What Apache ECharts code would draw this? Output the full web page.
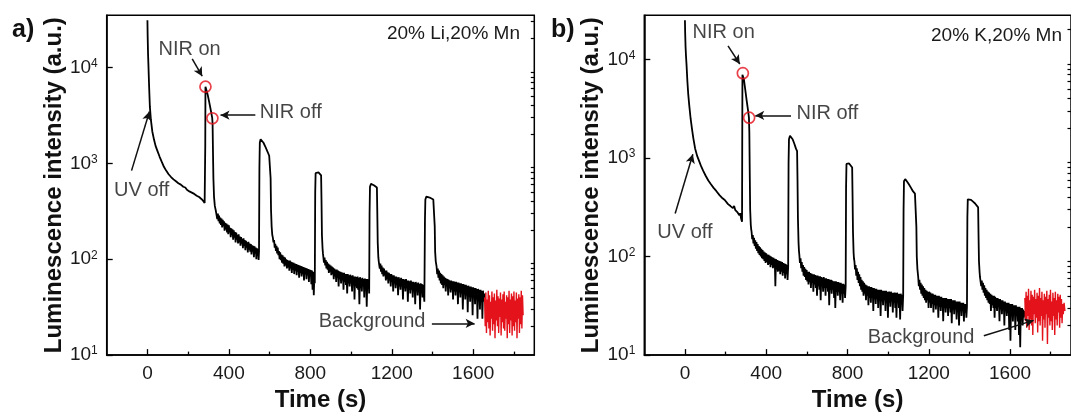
<!DOCTYPE html>
<html><head><meta charset="utf-8">
<script src="https://cdn.jsdelivr.net/npm/echarts@6/dist/echarts.min.js"></script>
<style>html,body{margin:0;padding:0;background:#fff}#c{width:1071px;height:417px}</style>
</head><body><div id="c"></div>
<script>
// ---- tick values ----
const xMajorTicks = [0, 400, 800, 1200, 1600];
const xMinorTicks = [200, 600, 1000, 1400, 1800];
const yMajorTicks = [10, 100, 1000, 10000];
const yMinorTicks = [20,30,40,50,60,70,80,90,200,300,400,500,600,700,800,900,2000,3000,4000,5000,6000,7000,8000,9000,20000,30000];

// ---- panel a: 20% Li, 20% Mn ----
const aBlack = [
[0,31000],[1,22000],[3,14000],[5,10500],[8,6600],[12,3900],[17,2850],[24,2150],[32,1780],[40,1520],[49,1350],[60,1170],[70,1040],[81,920],[92,840],[104,770],[116,720],[128,680],[140,650],[152,620],[164,600],[176,570],[186,560],[194,530],[200,545],[206,510],[212,530],[218,495],[224,510],[230,480],[236,500],[242,460],[248,475],[254,445],[260,455],[265,425],[270,430],[274,405],[278,400],[281,385],[283,380],
[284,1500],[285,6300],[288,6100],[295,5300],[303,4400],[311,3600],[318,3000],[320,2600],[322,1300],[324,700],[327,450],[331,360],[336,320],
[340,310],[343,262],[346,300],[349,250],[352,285],[355,236],[358,272],[361,228],[364,266],[367,215],[370,258],[373,222],[376,248],[379,198],[382,240],[385,205],[388,236],[391,190],[394,230],[397,182],[400,226],[403,190],[406,212],[409,170],[412,210],[415,178],[418,205],[421,160],[424,200],[427,168],[430,192],[433,150],[436,190],[439,160],[442,180],[445,146],[448,182],[451,150],[454,172],[457,138],[460,170],[463,145],[466,163],[469,130],[472,165],[475,138],[478,158],[481,124],[484,156],[487,132],[490,150],[493,118],[496,152],[499,126],[502,146],[505,120],[508,144],[511,112],[514,140],[517,120],[520,138],[523,105],[526,136],[529,114],[532,132],[535,100],[538,130],[541,108],[544,128],[546,98],[548,120],
[550,900],[552,1650],[556,1780],[562,1760],[570,1640],[580,1480],[590,1320],[598,1200],[603,1150],[605,700],[607,330],[610,220],[613,180],
[616,168],[619,150],[622,158],[625,132],[628,145],[631,122],[634,138],[637,115],[640,132],[643,110],[646,122],[649,100],[652,118],[655,98],[658,112],[661,92],[664,110],[667,90],[670,106],[673,84],[676,104],[679,86],[682,100],[685,80],[688,98],[691,82],[694,96],[697,76],[700,97],[703,80],[706,94],[709,72],[712,93],[715,78],[718,92],[721,70],[724,90],[727,76],[730,89],[733,68],[736,88],[739,74],[742,87],[745,64],[748,86],[751,72],[754,85],[757,66],[760,84],[763,70],[766,83],[769,60],[772,82],[775,70],[778,81],[781,62],[784,80],[787,68],[790,79],[793,58],[796,78],[799,66],[802,77],[805,55],[808,76],[811,48],[814,74],[817,42],[820,70],[822,56],
[824,500],[826,790],[832,815],[840,805],[848,780],[853,750],[855,400],[857,180],[860,130],[862,115],
[864,110],[867,92],[870,104],[873,86],[876,98],[879,80],[882,94],[885,78],[888,90],[891,72],[894,88],[897,74],[900,86],[903,68],[906,84],[909,70],[912,82],[915,62],[918,80],[921,66],[924,78],[927,58],[930,78],[933,64],[936,76],[939,52],[942,75],[945,62],[948,74],[951,56],[954,73],[957,60],[960,72],[963,48],[966,72],[969,58],[972,70],[975,54],[978,70],[981,44],[984,70],[987,56],[990,68],[993,52],[996,69],[999,56],[1002,67],[1005,46],[1008,68],[1011,54],[1014,66],[1017,38],[1020,66],[1023,52],[1026,65],[1029,50],[1032,66],[1035,48],[1038,64],[1041,34],[1044,65],[1047,50],[1050,63],[1053,46],[1056,64],[1059,52],[1062,62],[1065,40],[1068,63],[1071,48],[1074,62],[1077,32],[1080,62],[1083,50],[1086,60],[1089,44],
[1091,300],[1093,570],[1098,610],[1105,600],[1112,590],[1120,575],[1127,560],[1129,300],[1131,150],[1134,105],[1136,95],
[1138,92],[1141,80],[1144,90],[1147,74],[1150,86],[1153,70],[1156,82],[1159,66],[1162,80],[1165,68],[1168,76],[1171,60],[1174,76],[1177,62],[1180,73],[1183,56],[1186,72],[1189,60],[1192,70],[1195,52],[1198,70],[1201,58],[1204,68],[1207,46],[1210,68],[1213,56],[1216,66],[1219,50],[1222,66],[1225,54],[1228,65],[1231,42],[1234,65],[1237,52],[1240,63],[1243,48],[1246,64],[1249,52],[1252,62],[1255,38],[1258,62],[1261,50],[1264,61],[1267,46],[1270,62],[1273,50],[1276,60],[1279,36],[1282,60],[1285,48],[1288,59],[1291,44],[1294,60],[1297,48],[1300,58],[1303,40],[1306,58],[1309,47],[1312,57],[1315,34],[1318,58],[1321,46],[1324,56],[1327,42],[1330,57],[1333,46],[1336,55],[1339,30],[1342,56],[1345,44],[1348,55],[1351,40],[1354,54],[1357,44],[1360,36],
[1363,260],[1365,420],[1370,450],[1378,455],[1386,440],[1395,435],[1404,420],[1409,410],[1411,220],[1413,120],[1416,95],
[1420,84],[1423,70],[1426,80],[1429,64],[1432,76],[1435,60],[1438,72],[1441,56],[1444,70],[1447,54],[1450,68],[1453,50],[1456,66],[1459,54],[1462,64],[1465,46],[1468,63],[1471,52],[1474,62],[1477,42],[1480,61],[1483,50],[1486,60],[1489,45],[1492,60],[1495,48],[1498,59],[1501,38],[1504,59],[1507,46],[1510,58],[1513,42],[1516,58],[1519,46],[1522,57],[1525,34],[1528,57],[1531,45],[1534,56],[1537,40],[1540,56],[1543,44],[1546,55],[1549,30],[1552,55],[1555,43],[1558,54],[1561,38],[1564,54],[1567,42],[1570,53],[1573,28],[1576,53],[1579,41],[1582,52],[1585,36],[1588,52],[1591,40],[1594,51],[1597,26],[1600,51],[1603,40],[1606,50],[1609,34],[1612,50],[1615,38],[1618,49],[1621,24],[1624,49],[1627,38],[1630,48],[1633,30],[1636,48],[1639,36],[1642,47],[1645,24],[1648,47],[1651,36],[1655,44]
];
const aRed = [
[1656,40],[1659,20],[1662,45],[1665,17],[1668,38],[1671,22],[1674,47],[1677,19],[1680,42],[1683,16],[1686,36],[1689,24],[1692,46],[1695,18],[1698,40],[1701,21],[1704,44],[1707,15],[1710,37],[1713,23],[1716,48],[1719,20],[1722,41],[1725,17],[1728,39],[1731,25],[1734,45],[1737,16],[1740,38],[1743,22],[1746,43],[1749,19],[1752,46],[1755,18],[1758,36],[1761,24],[1764,42],[1767,15],[1770,40],[1773,21],[1776,47],[1779,17],[1782,38],[1785,23],[1788,44],[1791,16],[1794,41],[1797,20],[1800,46],[1803,18],[1806,37],[1809,22],[1812,45],[1815,15],[1818,39],[1821,24],[1824,43],[1827,17],[1830,40],[1833,21],[1836,47],[1839,19],[1842,42],[1845,26]
];
const aMarkers = [[285,6300],[319,2950]];
const aTexts = [
  {name:'NIR on', value:[207,15500]},
  {name:'NIR off', value:[704,3420]},
  {name:'UV off', value:[-28,525]},
  {name:'Background', value:[1103,22.5]}
];
const aArrows = [
  [[220,12300],[269,8100]],
  [[530,3180],[359,3180]],
  [[-78,840],[10,3470]],
  [[1397,21.4],[1607,21.4]]
];

// ---- panel b: 20% K, 20% Mn ----
const bBlack = [
[0,25000],[1,19000],[3,13500],[5,11000],[8,8700],[12,6000],[16,4500],[21,3450],[28,2500],[35,1950],[41,1600],[50,1250],[60,1050],[70,930],[80,820],[90,740],[102,660],[115,590],[128,540],[140,500],[155,460],[170,420],[185,390],[196,375],[205,360],[212,340],[218,355],[224,325],[230,340],[236,310],[242,325],[248,295],[254,305],[259,280],[264,290],[268,262],[272,275],[276,245],[279,255],[281,225],
[282,1500],[283,7000],[285,7250],[290,6300],[297,4900],[304,3800],[310,3100],[315,2560],[317,1800],[319,700],[321,300],[324,210],[326,190],
[328,178],[331,150],[334,165],[337,136],[340,155],[343,128],[346,146],[349,120],[352,140],[355,114],[358,134],[361,108],[364,128],[367,104],[370,124],[373,100],[376,120],[379,96],[382,116],[385,94],[388,112],[391,90],[394,110],[397,86],[400,108],[403,88],[406,105],[409,82],[412,104],[415,84],[418,102],[421,78],[424,100],[427,82],[430,98],[433,76],[436,97],[439,78],[442,95],[445,50],[448,94],[451,74],[454,92],[457,70],[460,91],[463,72],[466,90],[469,66],[472,89],[475,70],[478,88],[481,64],[484,86],[487,68],[490,85],[493,60],[496,84],[499,66],[502,82],[505,58],[508,78],
[510,900],[512,1550],[517,1680],[523,1660],[530,1550],[538,1400],[546,1250],[552,1170],[554,600],[556,250],[559,140],[561,115],
[563,104],[566,86],[569,96],[572,76],[575,88],[578,70],[581,82],[584,64],[587,78],[590,62],[593,75],[596,58],[599,73],[602,56],[605,70],[608,52],[611,70],[614,55],[617,68],[620,48],[623,67],[626,54],[629,66],[632,44],[635,66],[638,52],[641,65],[644,48],[647,64],[650,40],[653,64],[656,50],[659,63],[662,46],[665,63],[668,36],[671,62],[674,50],[677,61],[680,44],[683,62],[686,48],[689,60],[692,40],[695,60],[698,48],[701,59],[704,44],[707,59],[710,32],[713,58],[716,46],[719,58],[722,42],[725,57],[728,46],[731,56],[734,38],[737,56],[740,30],[743,56],[746,44],[749,55],[752,40],[755,55],[758,44],[761,54],[764,36],[767,54],[770,42],[773,53],[776,34],[779,53],[782,42],[785,52],[788,38],[791,50],
[793,500],[795,870],[800,900],[808,880],[816,840],[823,800],[825,400],[827,180],[830,110],[832,95],
[834,90],[837,74],[840,82],[843,64],[846,76],[849,58],[852,70],[855,54],[858,66],[861,50],[864,62],[867,46],[870,58],[873,44],[876,56],[879,40],[882,54],[885,42],[888,52],[891,36],[894,51],[897,40],[900,50],[903,32],[906,50],[909,38],[912,49],[915,34],[918,49],[921,38],[924,48],[927,28],[930,48],[933,37],[936,47],[939,33],[942,47],[945,37],[948,46],[951,30],[954,46],[957,36],[960,46],[963,25],[966,46],[969,35],[972,45],[975,32],[978,45],[981,36],[984,45],[987,28],[990,45],[993,35],[996,44],[999,24],[1002,44],[1005,34],[1008,44],[1011,31],[1014,44],[1017,35],[1020,43],[1023,27],[1026,43],[1029,34],[1032,43],[1035,30],[1038,43],[1041,24],[1044,43],[1047,34],[1050,42],[1053,30],[1056,42],[1059,23],[1062,42],[1065,33],[1068,41],[1071,28],[1074,40],
[1076,300],[1078,580],[1084,610],[1092,580],[1102,540],[1112,500],[1122,460],[1132,435],[1137,425],[1139,200],[1141,100],[1144,75],
[1148,62],[1151,50],[1154,58],[1157,46],[1160,54],[1163,42],[1166,52],[1169,40],[1172,50],[1175,38],[1178,48],[1181,36],[1184,46],[1187,34],[1190,45],[1193,36],[1196,44],[1199,30],[1202,44],[1205,34],[1208,43],[1211,30],[1214,42],[1217,33],[1220,42],[1223,27],[1226,41],[1229,32],[1232,41],[1235,29],[1238,40],[1241,32],[1244,40],[1247,24],[1250,40],[1253,31],[1256,39],[1259,28],[1262,39],[1265,31],[1268,38],[1271,22],[1274,38],[1277,30],[1280,38],[1283,27],[1286,38],[1289,30],[1292,37],[1295,25],[1298,37],[1301,30],[1304,37],[1307,27],[1310,37],[1313,21],[1316,36],[1319,29],[1322,36],[1325,26],[1328,36],[1331,29],[1334,35],[1337,23],[1340,35],[1343,28],[1346,35],[1349,20],[1352,35],[1355,28],[1358,34],[1361,25],[1364,34],[1367,28],[1370,34],[1373,22],[1376,33],[1379,27],[1382,33],[1385,24],[1388,31],
[1390,250],[1392,380],[1398,390],[1408,375],[1418,360],[1428,345],[1437,330],[1443,315],[1445,160],[1447,90],[1450,70],[1452,62],
[1455,60],[1458,50],[1461,57],[1464,46],[1467,54],[1470,43],[1473,51],[1476,40],[1479,48],[1482,38],[1485,46],[1488,36],[1491,44],[1494,34],[1497,43],[1500,33],[1503,42],[1506,28],[1509,41],[1512,32],[1515,40],[1518,30],[1521,40],[1524,24],[1527,39],[1530,30],[1533,38],[1536,28],[1539,38],[1542,31],[1545,37],[1548,22],[1551,37],[1554,29],[1557,36],[1560,26],[1563,36],[1566,29],[1569,35],[1572,20],[1575,35],[1578,28],[1581,34],[1584,25],[1587,34],[1590,27],[1593,34],[1596,18],[1599,33],[1602,14],[1605,33],[1608,26],[1611,33],[1614,22],[1617,32],[1620,26],[1623,32],[1626,18],[1629,32],[1632,25],[1635,31],[1638,22],[1641,31],[1644,16],[1647,31],[1650,12],[1653,30],[1656,24],[1659,30],[1662,20],[1665,29],[1668,24],[1671,28]
];
const bRed = [
[1673,38],[1676,22],[1679,44],[1682,19],[1685,40],[1688,25],[1691,47],[1694,18],[1697,36],[1700,23],[1703,45],[1706,20],[1709,41],[1712,16],[1715,39],[1718,26],[1721,46],[1724,21],[1727,37],[1730,24],[1733,43],[1736,17],[1739,40],[1742,22],[1745,48],[1748,20],[1751,38],[1754,25],[1757,44],[1760,14],[1763,36],[1766,23],[1769,42],[1772,19],[1775,39],[1778,26],[1781,45],[1784,13],[1787,37],[1790,24],[1793,41],[1796,20],[1799,46],[1802,22],[1805,35],[1808,18],[1811,43],[1814,25],[1817,38],[1820,16],[1823,44],[1826,23],[1829,36],[1832,20],[1835,42],[1838,27],[1841,39],[1844,19],[1847,41],[1850,24],[1853,37],[1856,21],[1859,33],[1862,26],[1866,34],[1870,28]
];
const bMarkers = [[285,7250],[316,2560]];
const bTexts = [
  {name:'NIR on', value:[191,18800]},
  {name:'NIR off', value:[701,2840]},
  {name:'UV off', value:[0,175]},
  {name:'Background', value:[1162,15]}
];
const bArrows = [
  [[212,13700],[270,8980]],
  [[522,2700],[346,2700]],
  [[-48,273],[39,1090]],
  [[1471,15.7],[1716,22.5]]
];

// ---- build chart ----
const FONT = 'Liberation Sans, Arial, Helvetica, sans-serif';
const RED = '#e3121b';
const chart = echarts.init(document.getElementById('c'), null, {renderer:'canvas'});

function xAxes(gi){
  return [{
    type:'value', gridIndex:gi, min:-200, max:1900, position:'bottom',
    name:'Time (s)', nameLocation:'middle', nameGap:30,
    nameTextStyle:{fontSize:24, fontWeight:'bold', color:'#111', fontFamily:FONT},
    axisLine:{show:true, onZero:false, lineStyle:{color:'#000', width:1.5}},
    axisTick:{show:true, inside:true, length:6, customValues:xMajorTicks, lineStyle:{color:'#000', width:1.3}},
    axisLabel:{show:true, customValues:xMajorTicks, margin:9, fontSize:19, color:'#1a1a1a', fontFamily:FONT,
      formatter:function(v){ return String(v); }},
    splitLine:{show:false}
  },{
    type:'value', gridIndex:gi, min:-200, max:1900, position:'bottom',
    axisLine:{show:false, onZero:false},
    axisTick:{show:true, inside:true, length:3.5, customValues:xMinorTicks, lineStyle:{color:'#000', width:1.3}},
    axisLabel:{show:false}, splitLine:{show:false}
  }];
}
function yAxes(gi, ymax){
  return [{
    type:'log', logBase:10, gridIndex:gi, min:10, max:ymax,
    name:'Luminescence intensity (a.u.)', nameLocation:'middle', nameGap:35,
    nameTextStyle:{fontSize:24, fontWeight:'bold', color:'#111', fontFamily:FONT},
    axisLine:{show:true, onZero:false, lineStyle:{color:'#000', width:1.5}},
    axisTick:{show:true, inside:true, length:6, customValues:yMajorTicks, lineStyle:{color:'#000', width:1.3}},
    axisLabel:{show:true, customValues:yMajorTicks, margin:9,
      formatter:function(v){ return '{b|10}{s|' + Math.round(Math.log10(v)) + '}'; },
      rich:{ b:{fontSize:19, lineHeight:20, color:'#1a1a1a', fontFamily:FONT},
             s:{fontSize:12, lineHeight:12, verticalAlign:'top', color:'#1a1a1a', fontFamily:FONT} } },
    splitLine:{show:false}
  },{
    type:'log', logBase:10, gridIndex:gi, min:10, max:ymax,
    axisLine:{show:false, onZero:false},
    axisTick:{show:true, inside:true, length:3.5, customValues:yMinorTicks, lineStyle:{color:'#000', width:1.2}},
    axisLabel:{show:false}, splitLine:{show:false}
  }];
}
function panelSeries(gi, black, red, markers, texts, arrows){
  const xi = gi*2, yi = gi*2;
  return [
    {type:'line', xAxisIndex:xi, yAxisIndex:yi, data:black, showSymbol:false, symbol:'none',
     lineStyle:{color:'#000', width:1.8}, silent:true, z:3},
    {type:'line', xAxisIndex:xi, yAxisIndex:yi, data:red, showSymbol:false, symbol:'none',
     lineStyle:{color:RED, width:1.4}, silent:true, z:3},
    {type:'scatter', xAxisIndex:xi, yAxisIndex:yi, data:markers, symbol:'circle', symbolSize:11,
     itemStyle:{color:'rgba(0,0,0,0)', borderColor:RED, borderWidth:1.7}, silent:true, z:5},
    {type:'scatter', xAxisIndex:xi, yAxisIndex:yi, data:texts, symbolSize:0.1,
     itemStyle:{color:'rgba(0,0,0,0)'}, silent:true, z:6,
     label:{show:true, position:'inside', formatter:'{b}', fontSize:20, color:'#151515', fontFamily:FONT},
     markLine:{silent:true, symbol:['none','arrow'], symbolSize:[7,9], animation:false,
       lineStyle:{color:'#111', width:1.5, type:'solid'}, label:{show:false},
       emphasis:{disabled:true},
       data: arrows.map(a => [{coord:a[0]}, {coord:a[1]}]) }
    }
  ];
}

const option = {
  animation:false,
  backgroundColor:'#fff',
  textStyle:{fontFamily:FONT},
  title:[
    {text:'a)', left:12, top:18, padding:0, textStyle:{fontSize:25, fontWeight:'bold', color:'#111', fontFamily:FONT}},
    {text:'b)', left:551, top:18, padding:0, textStyle:{fontSize:25, fontWeight:'bold', color:'#111', fontFamily:FONT}},
    {text:'20% Li,20% Mn', right:551, top:24, padding:0, textStyle:{fontSize:19, fontWeight:'normal', color:'#1a1a1a', fontFamily:FONT}},
    {text:'20% K,20% Mn', right:9, top:26, padding:0, textStyle:{fontSize:19, fontWeight:'normal', color:'#1a1a1a', fontFamily:FONT}}
  ],
  grid:[
    {left:106.7, top:15.3, width:427.6, height:345, show:true, borderColor:'#000', borderWidth:1.5, backgroundColor:'rgba(0,0,0,0)'},
    {left:644.3, top:15.3, width:427.5, height:345, show:true, borderColor:'#000', borderWidth:1.5, backgroundColor:'rgba(0,0,0,0)'}
  ],
  xAxis:[].concat(xAxes(0), xAxes(1)),
  yAxis:[].concat(yAxes(0, 35000), yAxes(1, 28000)),
  series:[].concat(
    panelSeries(0, aBlack, aRed, aMarkers, aTexts, aArrows),
    panelSeries(1, bBlack, bRed, bMarkers, bTexts, bArrows)
  )
};
chart.setOption(option);
</script>
</body></html>
